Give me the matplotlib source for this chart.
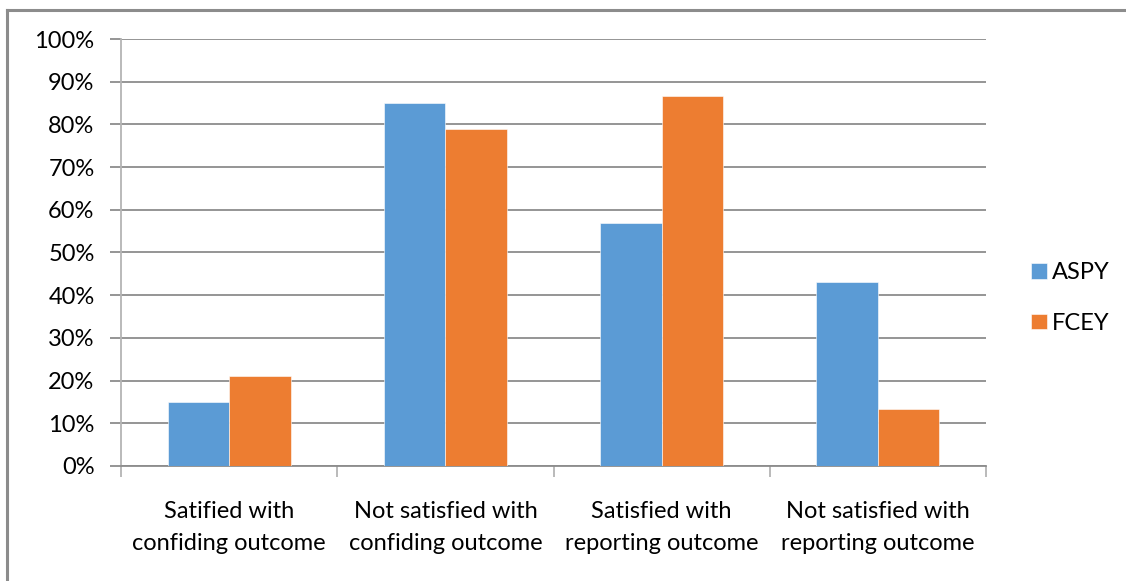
import matplotlib
matplotlib.use("Agg")
import matplotlib.pyplot as plt
import numpy as np
from matplotlib.ticker import PercentFormatter

categories = [
    "Satified with\nconfiding outcome",
    "Not satisfied with\nconfiding outcome",
    "Satisfied with\nreporting outcome",
    "Not satisfied with\nreporting outcome",
]
series_names = ["ASPY", "FCEY"]
aspy = [15, 85, 57, 43]
fcey = [21, 79, 86.7, 13.3]
yticks = list(range(0, 101, 10))

colors = ["#5B9BD5", "#ED7D31"]
grid_color = "#8C8C8C"
axis_color = "#B4B4B4"

plt.rcParams["font.family"] = ["Lato", "DejaVu Sans"]
fs = 17

W, H = 1126, 581
fig = plt.figure(figsize=(W / 100, H / 100), dpi=100)

# chart frame (left and top edges visible)
fig.add_artist(plt.Line2D([7 / W, 7 / W], [0, 1 - 10 / H], transform=fig.transFigure,
                          color="#8C8C8C", lw=2.2))
fig.add_artist(plt.Line2D([7 / W, 1], [1 - 10 / H, 1 - 10 / H], transform=fig.transFigure,
                          color="#8C8C8C", lw=2.2))

left, right, top, bottom = 121, 986, 39, 466
ax = fig.add_axes([left / W, 1 - bottom / H, (right - left) / W, (bottom - top) / H])

x = np.arange(len(categories))
bw = 0.284
ax.bar(x - bw / 2, aspy, bw, color=colors[0], label=series_names[0],
       edgecolor="white", linewidth=0.4, zorder=3)
ax.bar(x + bw / 2, fcey, bw, color=colors[1], label=series_names[1],
       edgecolor="white", linewidth=0.4, zorder=3)

ax.set_xlim(-0.5, len(categories) - 0.5)
ax.set_ylim(0, 100)
ax.set_yticks(yticks)
ax.yaxis.set_major_formatter(PercentFormatter(decimals=0))
ax.grid(axis="y", color=grid_color, linewidth=1.3, zorder=0)

# category boundary ticks on the x axis
ax.set_xticks(np.arange(-0.5, len(categories), 1.0))
ax.set_xticklabels([])
ax.set_xticks(x, minor=True)
ax.set_xticklabels(categories, minor=True, fontsize=fs, linespacing=1.65, color="#000000")
ax.tick_params(axis="x", which="minor", length=0, pad=25)
ax.tick_params(axis="x", which="major", length=8, width=1.3, color=axis_color, direction="out")
ax.tick_params(axis="y", length=8, width=1.3, color=grid_color, pad=11,
               labelsize=fs, labelcolor="#000000")

for side in ["top", "right"]:
    ax.spines[side].set_visible(False)
ax.spines["left"].set_color(axis_color)
ax.spines["left"].set_linewidth(1.3)
ax.spines["bottom"].set_color(grid_color)
ax.spines["bottom"].set_linewidth(1.3)

leg = ax.legend(loc="center left", bbox_to_anchor=(1022 / W, 1 - 298 / H),
                bbox_transform=fig.transFigure, frameon=False, fontsize=fs,
                handlelength=0.65, handleheight=0.65, handletextpad=0.2,
                labelspacing=1.25, borderaxespad=0)

fig.savefig("out.png", dpi=100, facecolor="white")
